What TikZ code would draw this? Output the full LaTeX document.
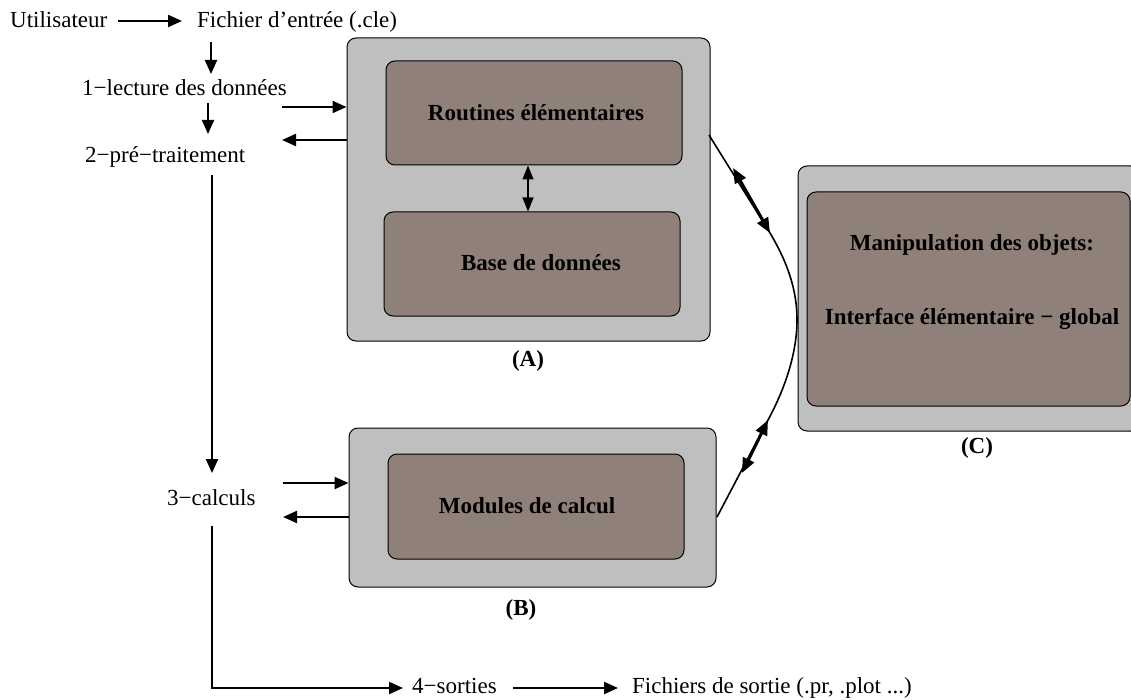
\documentclass[tikz,border=0pt]{standalone}
\usepackage{fontspec}
\setmainfont{Liberation Serif}
\usetikzlibrary{arrows.meta}
\definecolor{outergray}{RGB}{191,191,191}
\definecolor{innerbrown}{RGB}{143,128,121}
\tikzset{
  txt/.style={anchor=base west, inner sep=0pt, font=\fontsize{23}{27}\selectfont},
  btxt/.style={anchor=base, inner sep=0pt, font=\fontsize{23}{27}\selectfont\bfseries},
  outerbox/.style={draw=black, line width=1pt, fill=outergray, rounded corners=9pt, inner sep=0pt},
  innerbox/.style={draw=black, line width=1pt, fill=innerbrown, rounded corners=9pt, inner sep=0pt},
  arr/.style={line width=2.2pt, -{Triangle[length=14pt,width=12pt]}},
  darr/.style={line width=1.2pt, {Triangle[length=14pt,width=11pt]}-{Triangle[length=14pt,width=11pt]}},
  carr/.style={line width=3pt, {Triangle[length=15pt,width=12pt]}-{Triangle[length=15pt,width=12pt]}},
}
\begin{document}
\begin{tikzpicture}[x=1pt,y=-1pt]
\useasboundingbox (0,0) rectangle (1131,700);
\clip (0,0) rectangle (1131,700);
% boxes
\node[outerbox, minimum width=363pt, minimum height=303pt] (A) at (528.5,189.5) {};
\node[innerbox, minimum width=296pt, minimum height=104pt] (A1) at (534,113) {};
\node[innerbox, minimum width=296pt, minimum height=104pt] (A2) at (532,264) {};
\node[btxt] (A1t) at (536,121) {Routines élémentaires};
\node[btxt] (A2t) at (541,271) {Base de données};
\node[btxt] (Al) at (528,366) {(A)};

\node[outerbox, minimum width=367pt, minimum height=159pt] (B) at (532.5,507.5) {};
\node[innerbox, minimum width=296pt, minimum height=105pt] (B1) at (536,506.5) {};
\node[btxt] (B1t) at (527,513) {Modules de calcul};
\node[btxt] (Bl) at (521,615) {(B)};

\node[outerbox, minimum width=342pt, minimum height=265pt] (C) at (969,298.5) {};
\node[innerbox, minimum width=323pt, minimum height=214pt] (C1) at (968.5,299) {};
\node[btxt] (C1a) at (972,251) {Manipulation des objets:};
\node[btxt] (C1b) at (972,324) {Interface élémentaire − global};
\node[btxt] (Cl) at (977,453) {(C)};

% left texts
\node[txt] (u) at (10,28) {Utilisateur};
\node[txt] (f) at (197,28) {Fichier d’entrée (.cle)};
\node[txt] (l1) at (82,96) {1−lecture des données};
\node[txt] (l2) at (85,163) {2−pré−traitement};
\node[txt] (l3) at (167,505) {3−calculs};
\node[txt] (l4) at (412,693) {4−sorties};
\node[txt] (fs) at (632,693) {Fichiers de sortie (.pr, .plot ...)};

% coordinates
\coordinate (u1) at (118,21);
\coordinate (u2) at (182,21);
\coordinate (d1a) at (211,42);
\coordinate (d1b) at (211,74);
\coordinate (d2a) at (208,103);
\coordinate (d2b) at (208,134);
\coordinate (ra1) at (282,107);
\coordinate (ra2) at (A.west |- ra1);
\coordinate (la1) at (282,140);
\coordinate (la2) at (A.west |- la1);
\coordinate (v1) at (212,175);
\coordinate (v2) at (212,473);
\coordinate (rb1) at (283,483);
\coordinate (rb2) at (B.west |- rb1);
\coordinate (lb1) at (283,517);
\coordinate (lb2) at (B.west |- lb1);
\coordinate (w1) at (212,526);
\coordinate (w2) at (212,688);
\coordinate (w3) at (403,688);
\coordinate (s1) at (513,688);
\coordinate (s2) at (618,688);

\draw[arr] (u1) -- (u2);
\draw[arr] (d1a) -- (d1b);
\draw[arr] (d2a) -- (d2b);
\draw[arr] (ra1) -- (ra2);
\draw[arr] (la2) -- (la1);
\draw[arr] (v1) -- (v2);
\draw[arr] (rb1) -- (rb2);
\draw[arr] (lb2) -- (lb1);
\draw[arr] (w1) -- (w2) -- (w3);
\draw[arr] (s1) -- (s2);

% A1 <-> A2
\draw[darr] (A1.south -| 528,0) -- (A2.north -| 528,0);

% curve
\coordinate (cA) at (709,135);
\coordinate (t1) at (733,168);
\coordinate (t2) at (770,233);
\coordinate (mid) at (797,320);
\coordinate (b1) at (768,420);
\coordinate (b2) at (742,473);
\coordinate (cB) at (717,517);
\draw[line width=1.6pt] (cA) -- (t2) .. controls (789,265) and (797,292) .. (mid) .. controls (797,350) and (787,385) .. (b1) -- (cB);
\draw[carr] (t1) -- (t2);
\draw[carr] (b1) -- (b2);
\end{tikzpicture}
\end{document}
